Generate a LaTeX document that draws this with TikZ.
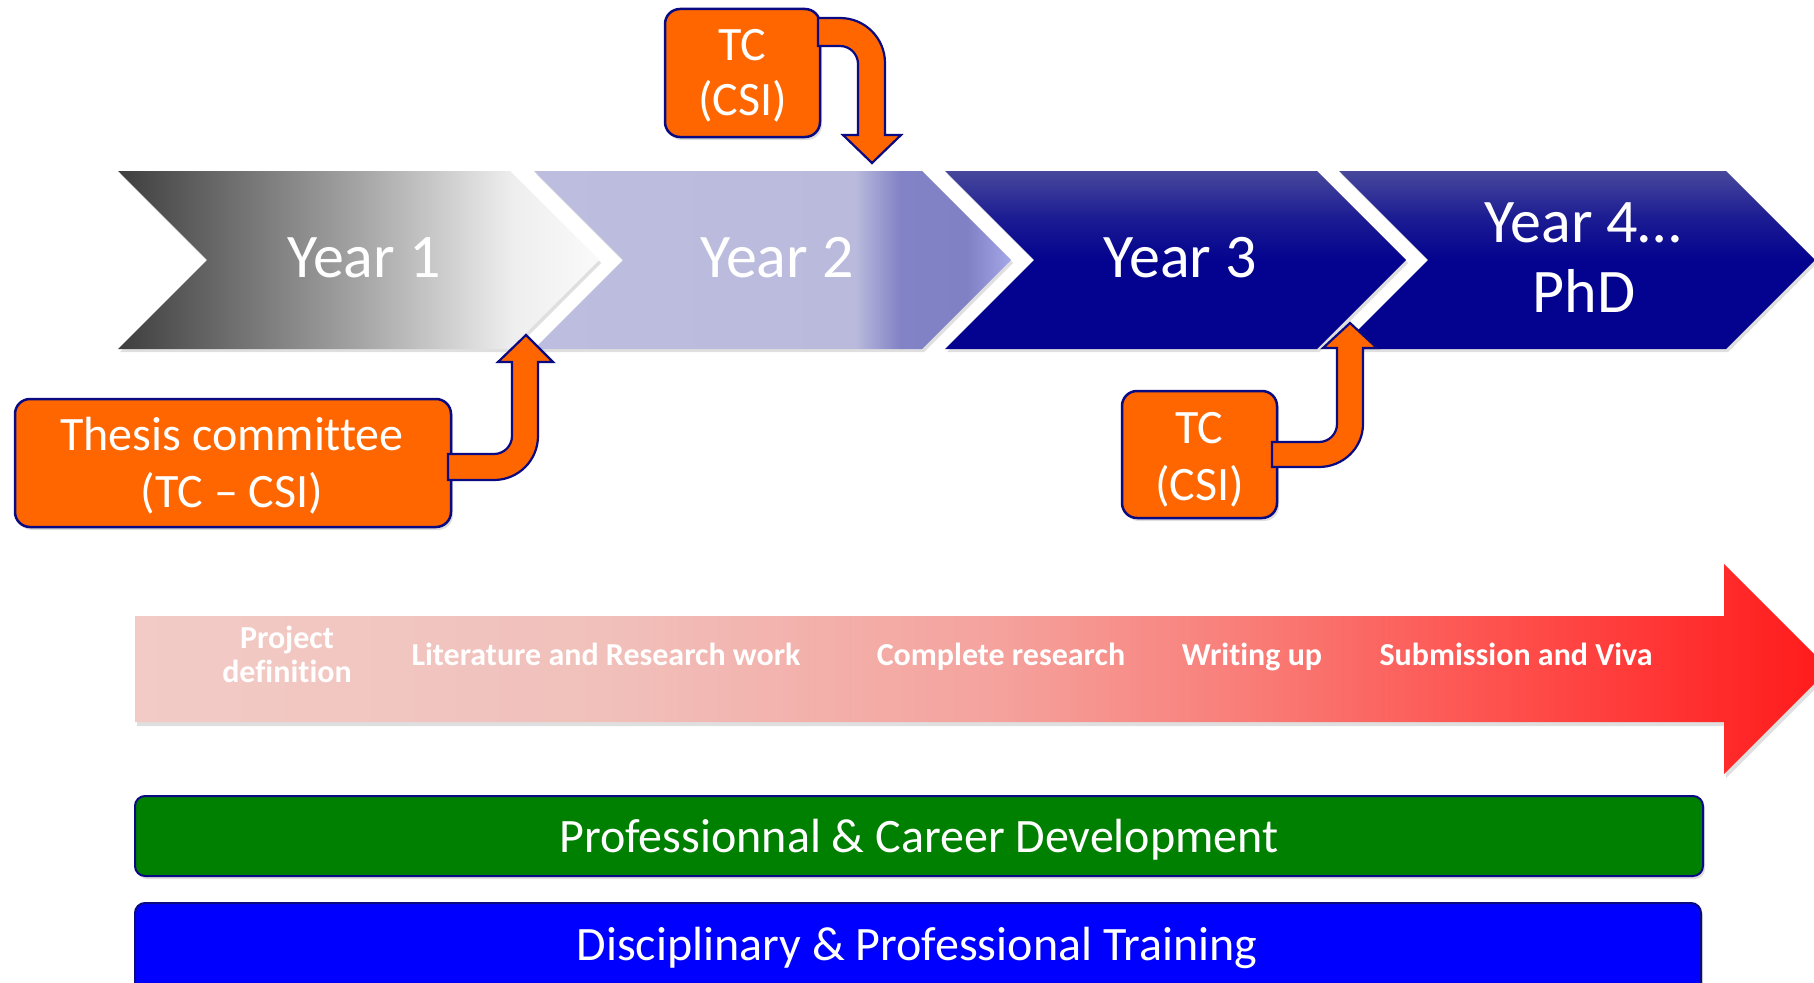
\documentclass[tikz,border=0pt]{standalone}
\usepackage{fontspec}
\setmainfont[Ligatures=NoCommon]{Carlito}
\usetikzlibrary{shadows}
\definecolor{orng}{HTML}{FF6600}
\definecolor{navyb}{HTML}{0A0A82}
\definecolor{grn}{HTML}{008000}
\definecolor{blu}{HTML}{0000FF}
% year 1
\definecolor{yoa}{HTML}{3E3E3E}
\definecolor{yob}{HTML}{A4A4A4}
\definecolor{yoc}{HTML}{EEEEEE}
\definecolor{yod}{HTML}{FAFAFA}
% year 2
\definecolor{ywa}{HTML}{BDBEDF}
\definecolor{ywb}{HTML}{BABBDC}
\definecolor{ywc}{HTML}{8282C6}
\definecolor{ywd}{HTML}{8080C5}
\definecolor{ywe}{HTML}{A4A7E8}
% year 3/4
\definecolor{nva}{HTML}{03038F}
\definecolor{nvb}{HTML}{1C1C93}
\definecolor{nvc}{HTML}{47489B}
% red arrow
\definecolor{rda}{HTML}{F2CBC6}
\definecolor{rdb}{HTML}{F1C0BB}
\definecolor{rdc}{HTML}{F5A29D}
\definecolor{rdd}{HTML}{F97C77}
\definecolor{rde}{HTML}{FE4E4B}
\definecolor{rdf}{HTML}{FF2A2A}
\definecolor{rdg}{HTML}{FF1A1A}
\pgfdeclarehorizontalshading{yearone}{100bp}{color(0bp)=(yoa); color(25bp)=(yoa); color(50bp)=(yob); color(66bp)=(yoc); color(75bp)=(yod); color(100bp)=(yod)}
\pgfdeclarehorizontalshading{yeartwo}{100bp}{color(0bp)=(ywa); color(25bp)=(ywa); color(58.6bp)=(ywb); color(63.4bp)=(ywc); color(70.4bp)=(ywd); color(75bp)=(ywe); color(100bp)=(ywe)}
\pgfdeclareverticalshading{yearnavy}{100bp}{color(0bp)=(nva); color(25bp)=(nva); color(50bp)=(nva); color(62bp)=(nvb); color(75bp)=(nvc); color(100bp)=(nvc)}
\pgfdeclarehorizontalshading{redgrad}{100bp}{color(0bp)=(rda); color(25bp)=(rda); color(38.9bp)=(rdb); color(50.5bp)=(rdc); color(58bp)=(rdd); color(65.75bp)=(rde); color(72bp)=(rdf); color(75bp)=(rdg); color(100bp)=(rdg)}
\begin{document}
\begin{tikzpicture}[x=1pt,y=-1pt,
  chev/.style={drop shadow={shadow xshift=2pt,shadow yshift=-3pt,opacity=0.25}},
  yeartxt/.style={text=white,inner sep=0pt,font=\fontsize{62}{70}\selectfont},
  obox/.style={draw=navyb,line width=2.5pt,fill=orng,rounded corners=15pt,inner sep=0pt,
    drop shadow={shadow xshift=2pt,shadow yshift=-3pt,opacity=0.25}},
  otxt/.style={text=white,inner sep=0pt,font=\fontsize{48}{56}\selectfont},
  barrow/.style={fill=orng,draw=navyb,line width=2.2pt},
  rtxt/.style={text=white,inner sep=0pt,font=\fontsize{32}{36}\selectfont\bfseries},
  bar/.style={draw=navyb,line width=2pt,rounded corners=10pt,inner sep=0pt,
    drop shadow={shadow xshift=2pt,shadow yshift=-3pt,opacity=0.25}},
  bartxt/.style={text=white,inner sep=0pt,font=\fontsize{48}{56}\selectfont}]
\useasboundingbox (0,0) rectangle (1814,982);
\clip (0,0) rectangle (1814,982);
\fill[white] (0,0) rectangle (1814,982);

% chevrons
\path[chev,shading=yearone] (118,171) -- (510,171) -- (599,260) -- (510,349) -- (118,349) -- (207,260) -- cycle;
\path[chev,shading=yeartwo] (534,171) -- (922,171) -- (1011,260) -- (922,349) -- (534,349) -- (623,260) -- cycle;
\path[chev,shading=yearnavy] (945,171) -- (1317,171) -- (1406,260) -- (1317,349) -- (945,349) -- (1034,260) -- cycle;
\path[chev,shading=yearnavy] (1339,171) -- (1726,171) -- (1815,260) -- (1726,349) -- (1339,349) -- (1428,260) -- cycle;

\node[yeartxt,anchor=base] (y1) at (364,277) {Year 1};
\node[yeartxt,anchor=base] (y2) at (777,277) {Year 2};
\node[yeartxt,anchor=base] (y3) at (1180,277) {Year 3};
\node[yeartxt,anchor=base] (y4a) at (1583,242) {Year 4…};
\node[yeartxt,anchor=base] (y4b) at (1584,312) {PhD};

% red arrow
\path[drop shadow={shadow xshift=2pt,shadow yshift=-4pt,opacity=0.25},shading=redgrad]
  (135,616) -- (1724,616) -- (1724,564) -- (1829,669) -- (1724,774) -- (1724,722) -- (135,722) -- cycle;
\node[rtxt,anchor=base] (pd1) at (287,648) {Project};
\node[rtxt,anchor=base] (pd2) at (287,682) {definition};
\node[rtxt,anchor=base] (lit) at (606,665) {Literature and Research work};
\node[rtxt,anchor=base] (cr) at (1001,665) {Complete research};
\node[rtxt,anchor=base] (wu) at (1252,665) {Writing up};
\node[rtxt,anchor=base] (sv) at (1516,665) {Submission and Viva};

% bars
\node[bar,fill=grn,minimum width=1568pt,minimum height=80pt] (pcd) at (919,836) {};
\node[bartxt,anchor=base] (pcdt) at (919,852) {Professionnal \& Career Development};
\node[bar,fill=blu,minimum width=1566pt,minimum height=100pt] (dpt) at (918,953) {};
\node[bartxt,anchor=base] (dptt) at (917,960) {Disciplinary \& Professional Training};

% orange boxes
\node[obox,minimum width=155pt,minimum height=128pt] (tc1) at (742.5,73) {};
\node[otxt,anchor=base] (tc1a) at (742.5,60) {TC};
\node[otxt,anchor=base] (tc1b) at (742.5,115) {(CSI)};

\node[obox,minimum width=436pt,minimum height=128pt] (th) at (233,463) {};
\node[otxt,anchor=base] (tha) at (232,450) {Thesis committee};
\node[otxt,anchor=base] (thb) at (232,507) {(TC – CSI)};

\node[obox,minimum width=155pt,minimum height=127pt] (tc2) at (1199.5,454.5) {};
\node[otxt,anchor=base] (tc2a) at (1199.5,443) {TC};
\node[otxt,anchor=base] (tc2b) at (1199.5,500) {(CSI)};

% bent arrows
\path[barrow] (818,18) -- (840,18) .. controls (864.9,18) and (885,38.1) .. (885,63) -- (885,135) -- (901,135) -- (872,163) -- (843,135) -- (858,135) -- (858,64) .. controls (858,54.1) and (849.9,46) .. (840,46) -- (818,46) -- cycle;

\path[barrow] (448,454) -- (494,454) .. controls (503.9,454) and (512,445.9) .. (512,436) -- (512,362) -- (498,362) -- (526,335) -- (553,362) -- (538,362) -- (538,436) .. controls (538,460.3) and (518.3,480) .. (494,480) -- (448,480) -- cycle;

\path[barrow] (1272,442) -- (1319,442) .. controls (1328.9,442) and (1337,433.9) .. (1337,424) -- (1337,348) -- (1323,348) -- (1350,323) -- (1377,348) -- (1363,348) -- (1363,424) .. controls (1363,447.7) and (1343.3,467) .. (1319,467) -- (1272,467) -- cycle;
\end{tikzpicture}
\end{document}
